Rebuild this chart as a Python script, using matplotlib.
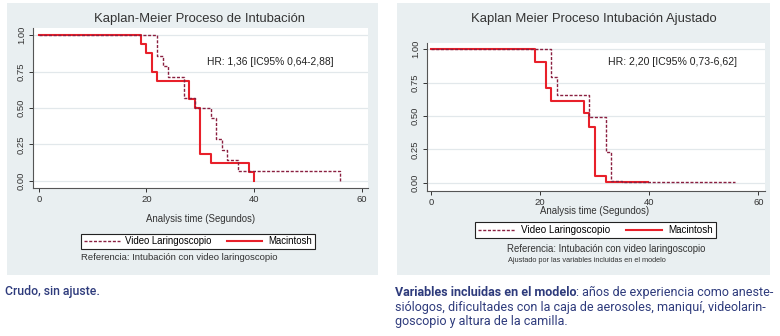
import matplotlib
matplotlib.use("Agg")
import matplotlib.pyplot as plt
from matplotlib.patches import Rectangle
from matplotlib import font_manager
import numpy as np

# ---- data ----
# crude (left panel)
crude_mac_t = [0, 19, 20, 21, 22, 28, 29, 30, 32, 39, 40]
crude_mac_s = [1, 0.9375, 0.875, 0.75, 0.6875, 0.5625, 0.5, 0.1875, 0.125, 0.0625, 0]
crude_vid_t = [0, 22, 23, 24, 27, 29, 32, 33, 34, 35, 37, 56]
crude_vid_s = [1, 12/14, 11/14, 10/14, 8/14, 7/14, 6/14, 4/14, 3/14, 2/14, 1/14, 0]
# adjusted (right panel)
adj_mac_t = [0, 19, 21, 22, 28, 29, 30, 32, 37, 39.7]
adj_mac_s = [1, 0.90, 0.71, 0.61, 0.52, 0.42, 0.05, 0.008, 0.004, 0.004]
adj_vid_t = [0, 22, 23, 29, 32, 33, 35, 37, 55.7]
adj_vid_s = [1, 0.79, 0.66, 0.49, 0.23, 0.015, 0.01, 0.005, 0.005]

yticks = [0, 0.25, 0.5, 0.75, 1.0]
ytick_labels = ["0.00", "0.25", "0.50", "0.75", "1.00"]
xticks = [0, 20, 40, 60]

RED = "#e8202a"
MAROON = "#8a1f40"
BG = "#e9eff1"
NAVY = "#2e3b7c"
GRID = "#e2e8eb"

names = {f.name for f in font_manager.fontManager.ttflist}
chart_font = "Liberation Sans"
cap_font = "Liberation Sans Narrow" if "Liberation Sans Narrow" in names else "Roboto"

plt.rcParams['font.family'] = chart_font

W, H = 780, 336
fig = plt.figure(figsize=(W/100, H/100), dpi=100)
fig.patch.set_facecolor("white")

def px(x, y):
    return x / W, 1 - y / H

# grey graph regions
for x0, x1 in [(7, 378), (397, 770)]:
    fig.patches.append(Rectangle(px(x0, 275), (x1 - x0) / W, 272 / H,
                                 transform=fig.transFigure, facecolor=BG,
                                 edgecolor="none", zorder=-5))

def km_axes(rect, xlim, ylim, mac_t, mac_s, vid_t, vid_s, hr, hr_y, hr_fs, title, tpos):
    l, t, r, b = rect
    ax = fig.add_axes([l / W, 1 - b / H, (r - l) / W, (b - t) / H])
    ax.set_zorder(2)
    ax.set_facecolor("white")
    ax.set_xlim(*xlim)
    ax.set_ylim(*ylim)
    for y in yticks:
        ax.axhline(y, color=GRID, lw=0.9, zorder=1)
    ax.step(vid_t, vid_s, where="post", color=MAROON, lw=1.0,
            ls=(0, (2.2, 1.2)), zorder=3, label="Video Laringoscopio")
    ax.step(mac_t, mac_s, where="post", color=RED, lw=1.5,
            zorder=2, label="Macintosh")
    for s in ["top", "right"]:
        ax.spines[s].set_visible(False)
    for s in ["left", "bottom"]:
        ax.spines[s].set_color("#555555")
        ax.spines[s].set_linewidth(0.8)
    ax.set_yticks(yticks)
    ax.set_yticklabels(ytick_labels, rotation=90, va="center")
    ax.set_xticks(xticks)
    ax.tick_params(axis="both", labelsize=6.8, colors="#333333", length=3,
                   width=0.7, pad=2)
    ax.text(hr[0], hr_y, hr[1], transform=ax.transData, fontsize=hr_fs,
            color="#222222", va="center")
    fig.text(*px(*tpos), title, fontsize=9.4, color="#333333",
             ha="center", va="center")
    return ax

ax1 = km_axes((33, 28, 368, 188), (-1.1, 61.2), (-0.048, 1.048),
              crude_mac_t, crude_mac_s, crude_vid_t, crude_vid_s,
              (31.2, "HR: 1,36 [IC95% 0,64-2,88]"), 0.815, 7.4,
              "Kaplan-Meier Proceso de Intubación", (200, 19))
ax2 = km_axes((427, 43, 765, 191), (-0.73, 61.2), (-0.06, 1.045),
              adj_mac_t, adj_mac_s, adj_vid_t, adj_vid_s,
              (32.4, "HR: 2,20 [IC95% 0,73-6,62]"), 0.90, 7.6,
              "Kaplan Meier Proceso Intubación Ajustado", (594, 19))

fig.text(*px(201, 219), "Analysis time (Segundos)", fontsize=6.9,
         color="#333333", ha="center", va="center")
fig.text(*px(595, 211), "Analysis time (Segundos)", fontsize=6.9,
         color="#333333", ha="center", va="center")

for ax, (cx, cy), fs in [(ax1, (198, 241.5), 6.9), (ax2, (595.5, 230), 7.1)]:
    leg = fig.legend(*ax.get_legend_handles_labels(), loc="center",
                     bbox_to_anchor=px(cx, cy), ncol=2, fontsize=fs,
                     frameon=True, fancybox=False, edgecolor="#222222",
                     framealpha=1, handlelength=3.7, columnspacing=1.6,
                     borderpad=0.3, handletextpad=0.6)
    leg.get_frame().set_linewidth(0.8)
    leg.set_zorder(3)

fig.text(*px(81, 258), "Referencia: Intubación con video laringoscopio",
         fontsize=6.8, color="#333333", va="center")
fig.text(*px(507, 249), "Referencia: Intubación con video laringoscopio",
         fontsize=6.9, color="#333333", va="center")
fig.text(*px(508, 260), "Ajustado por las variables incluidas en el modelo",
         fontsize=5.3, color="#333333", va="center")

# captions below the panels
fig.text(*px(5, 292), "Crudo, sin ajuste.", fontsize=8.8, color=NAVY,
         va="center", family=cap_font, fontweight="medium")

fig.canvas.draw()
rend = fig.canvas.get_renderer()
b = fig.text(*px(395, 292), "Variables incluidas en el modelo", fontsize=9.0,
             color=NAVY, va="center", family=cap_font, fontweight="bold")
bb = b.get_window_extent(renderer=rend)
fig.text(bb.x1 / W, 1 - 292 / H, ": años de experiencia como aneste-",
         fontsize=9.0, color=NAVY, va="center", family=cap_font)
fig.text(*px(395, 307), "siólogos, dificultades con la caja de aerosoles, maniquí, videolarin-",
         fontsize=9.0, color=NAVY, va="center", family=cap_font)
fig.text(*px(395, 321), "goscopio y altura de la camilla.",
         fontsize=9.0, color=NAVY, va="center", family=cap_font)

fig.savefig("out.png", dpi=100)
